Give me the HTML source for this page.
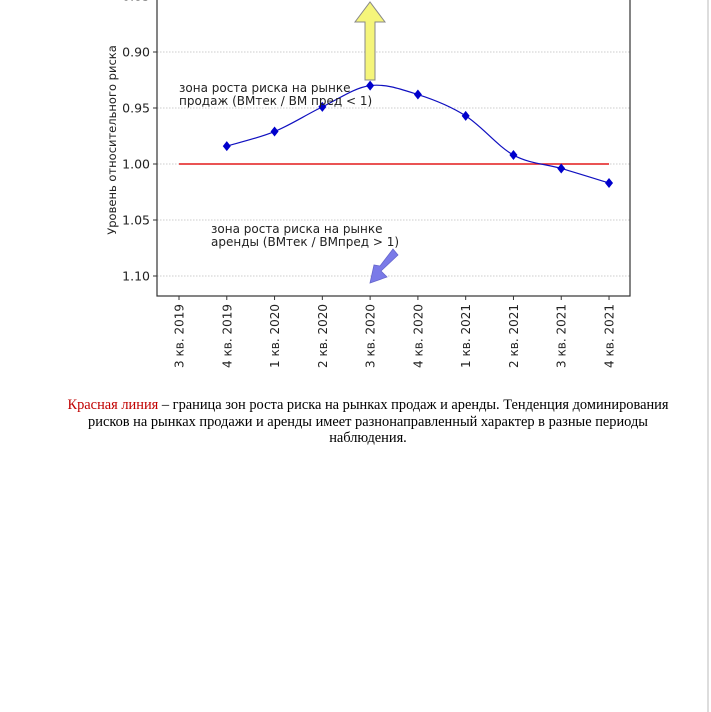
<!DOCTYPE html>
<html><head><meta charset="utf-8"><style>
body{margin:0;background:#fff;width:711px;height:712px;overflow:hidden;position:relative}
svg{position:absolute;left:0;top:0}
.cap{position:absolute;left:55px;width:626px;top:397px;text-align:center;font-family:"Liberation Serif",serif;font-size:14.4px;line-height:16.5px;color:#000}
</style></head><body>
<svg width="711" height="712">
<line x1="708" y1="0" x2="708" y2="712" stroke="#bbb"/>
<g id="grid"></g>
<g id="yticks" font-family="DejaVu Sans, Liberation Sans, sans-serif" font-size="12.5" fill="#222"></g>
<g id="xticks" font-family="DejaVu Sans, Liberation Sans, sans-serif" font-size="12" fill="#222"></g>
<rect x="157" y="-10" width="473" height="306" fill="none" stroke="#333" stroke-width="1.2"/>
<text transform="translate(116,140) rotate(-90)" text-anchor="middle" font-family="DejaVu Sans, Liberation Sans, sans-serif" font-size="11.5" fill="#222">Уровень относительного риска</text>
<line id="redline" stroke="#e31a1c" stroke-width="1.6"/>
<path id="curve" fill="none" stroke="#1010c0" stroke-width="1.2"/>
<g id="pts"></g>
<polygon points="365,80 375,80 375,22 385,22 370,2 355,22 365,22" fill="#f5f57a" stroke="#888" stroke-width="1"/>
<polygon points="393,249 398,255 381,271 387,277 370,283 374,265 380,266" fill="#7a7ae8" stroke="#6666cc" stroke-width="0.8"/>
<g font-family="DejaVu Sans, Liberation Sans, sans-serif" font-size="12" fill="#222">
<text x="179" y="92"><tspan x="179">зона роста риска на рынке</tspan><tspan x="179" dy="13">продаж (ВМтек / ВМ пред &lt; 1)</tspan></text>
<text x="211" y="233"><tspan x="211">зона роста риска на рынке</tspan><tspan x="211" dy="13">аренды (ВМтек / ВМпред &gt; 1)</tspan></text>
</g>
</svg>
<div class="cap"><span style="color:#c00000">Красная линия</span> – граница зон роста риска на рынках продаж и аренды. Тенденция доминирования рисков на рынках продажи и аренды имеет разнонаправленный характер в разные периоды наблюдения.</div>
<script>
const categories=["3 кв. 2019","4 кв. 2019","1 кв. 2020","2 кв. 2020","3 кв. 2020","4 кв. 2020","1 кв. 2021","2 кв. 2021","3 кв. 2021","4 кв. 2021"];
const seriesValues=[null,0.984,0.971,0.949,0.930,0.938,0.957,0.992,1.004,1.017];
const boundaryValue=1.00;
const yTicks=[0.85,0.90,0.95,1.00,1.05,1.10];
const yTickLabels=["0.85","0.90","0.95","1.00","1.05","1.10"];
const NS="http://www.w3.org/2000/svg";
function xs(i){return 179+i*47.78;}
function ys(v){return 164+(v-1.0)/0.05*56;}
function mk(t,a,p){const e=document.createElementNS(NS,t);for(const k in a)e.setAttribute(k,a[k]);document.getElementById(p).appendChild(e);return e;}
yTicks.forEach((v,i)=>{
 const y=ys(v);
 const g=mk('line',{x1:157,x2:630,y1:y,y2:y,stroke:'#ccc','stroke-dasharray':'1.5,1.5'},'grid');
 
 
 const tk=mk('line',{x1:153,x2:157,y1:y,y2:y,stroke:'#333'},'yticks');
 
 
 const t=mk('text',{x:150,y:y+4.5,'text-anchor':'end'},'yticks');
 t.textContent=yTickLabels[i];
 
 
});
categories.forEach((c,i)=>{
 const x=xs(i);
 const tk=mk('line',{x1:x,x2:x,y1:296,y2:300,stroke:'#333'},'xticks');
 
 
 const t=mk('text',{transform:`translate(${x+4.5},304) rotate(-90)`,'text-anchor':'end'},'xticks');
 t.textContent=c;
 
 
});
const r=document.getElementById('redline');
r.setAttribute('x1',xs(0));r.setAttribute('x2',xs(categories.length-1));
r.setAttribute('y1',ys(boundaryValue));r.setAttribute('y2',ys(boundaryValue));
const P=[];seriesValues.forEach((v,i)=>{if(v!==null)P.push([xs(i),ys(v)]);});
let d=`M${P[0][0]},${P[0][1]}`;
for(let i=0;i<P.length-1;i++){
 const p0=P[Math.max(0,i-1)],p1=P[i],p2=P[i+1],p3=P[Math.min(P.length-1,i+2)];
 const c1=[p1[0]+(p2[0]-p0[0])/6,p1[1]+(p2[1]-p0[1])/6],c2=[p2[0]-(p3[0]-p1[0])/6,p2[1]-(p3[1]-p1[1])/6];
 d+=` C${c1[0]},${c1[1]} ${c2[0]},${c2[1]} ${p2[0]},${p2[1]}`;
}
document.getElementById('curve').setAttribute('d',d);
P.forEach(p=>{
 const m=mk('polygon',{points:`${p[0]},${p[1]-5} ${p[0]+4},${p[1]} ${p[0]},${p[1]+5} ${p[0]-4},${p[1]}`,fill:'#0000cc'},'pts');
 
 
});
</script>
</body></html>
